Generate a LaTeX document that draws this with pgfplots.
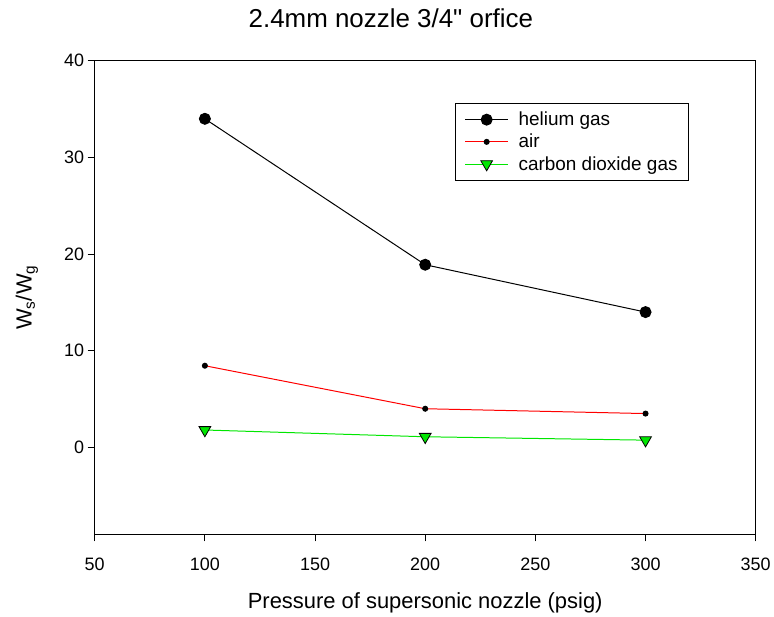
\documentclass[border=0pt]{standalone}
\usepackage{fontspec}
\setmainfont{Liberation Sans}[Ligatures=TeXOff]
\usepackage{pgfplots}
\pgfplotsset{compat=1.18}
\definecolor{myred}{RGB}{255,0,0}
\definecolor{mygreen}{RGB}{0,230,0}
\definecolor{mygreenfill}{RGB}{0,230,0}
\begin{document}
\begin{tikzpicture}
\begin{axis}[
  scale only axis, width=663pt, height=475pt,
  xmin=50, xmax=350, ymin=-9, ymax=40,
  xtick={50,100,...,350}, ytick={0,10,20,30,40},
  tick align=outside, major tick length=7pt, tick pos=left,
  tick style={black, line width=0.8pt},
  axis line style={line width=0.8pt},
  clip=false,
  /pgf/number format/assume math mode=true,
  ticklabel style={font=\fontsize{18}{20}\selectfont},
  xticklabel style={yshift=-13pt},
  xlabel={Pressure of supersonic nozzle (psig)},
  ylabel={W\textsubscript{s}/W\textsubscript{g}},
  label style={font=\fontsize{22}{24}\selectfont},
  xlabel style={at={([yshift=-69pt]axis description cs:0.5,0)}, anchor=center},
  ylabel style={at={([xshift=-68pt]axis description cs:0,0.5)}, anchor=center},
  legend style={at={(rel axis cs:0.899,0.9116)}, anchor=north east, draw=black,
    line width=0.8pt, font=\fontsize{19}{21}\selectfont,
    inner xsep=9pt, inner ysep=7pt, row sep=3pt,
    /tikz/every odd column/.style={column sep=8pt}},
  legend cell align=left,
  legend image code/.code={\draw[mark repeat=2,mark phase=2] plot coordinates {(0pt,0pt)(21.5pt,0pt)(43pt,0pt)};},
]
\addplot[black, line width=1pt, mark=*, mark size=5.5pt, mark options={fill=black}]
  coordinates {(100,34.0) (200,18.9) (300,14.0)};
\addlegendentry{helium gas}
\addplot[myred, line width=1pt, mark=*, mark size=2.5pt, mark options={fill=black, draw=black}]
  coordinates {(100,8.45) (200,4.0) (300,3.5)};
\addlegendentry{air}
\addplot[mygreen, line width=1pt, mark=triangle*, mark size=6.8pt, mark options={rotate=180, fill=mygreenfill, draw=black, line width=0.8pt}]
  coordinates {(100,1.8) (200,1.1) (300,0.75)};
\addlegendentry{carbon dioxide gas}
\node[font=\fontsize{26}{28}\selectfont, anchor=center] at ([yshift=43pt]axis description cs:0.448,1) {2.4mm nozzle 3/4" orfice};
\path ([shift={(-95pt,-81pt)}]rel axis cs:0,0) rectangle ([shift={(16pt,61pt)}]rel axis cs:1,1);
\end{axis}
\end{tikzpicture}
\end{document}
